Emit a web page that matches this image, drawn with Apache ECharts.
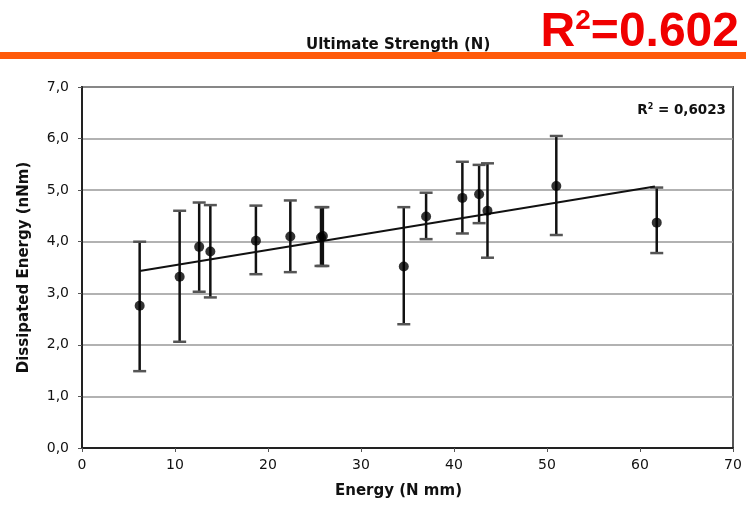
<!DOCTYPE html>
<html>
<head>
<meta charset="utf-8">
<script src="https://cdn.jsdelivr.net/npm/echarts@6/dist/echarts.min.js"></script>
<style>
html,body{margin:0;padding:0;background:#fff;}
#chart{width:746px;height:511px;}
</style>
</head>
<body>
<div id="chart"></div>
<script>
// Data
const energyX = [6.2, 10.5, 12.6, 13.8, 18.7, 22.4, 25.7, 25.9, 34.6, 37.0, 40.9, 42.7, 43.6, 51.0, 61.8];
const dissipatedY = [2.76, 3.32, 3.90, 3.81, 4.02, 4.10, 4.08, 4.11, 3.52, 4.49, 4.85, 4.92, 4.60, 5.08, 4.37];
const errHigh = [4.00, 4.60, 4.76, 4.71, 4.70, 4.80, 4.67, 4.67, 4.67, 4.95, 5.55, 5.49, 5.52, 6.05, 5.05];
const errLow = [1.49, 2.06, 3.03, 2.92, 3.37, 3.41, 3.53, 3.53, 2.40, 4.05, 4.16, 4.36, 3.69, 4.13, 3.78];
const trendX = [6.2, 61.6];
const trendY = [3.43, 5.07];
const yTicks = [0, 1, 2, 3, 4, 5, 6, 7];
const xTicks = [0, 10, 20, 30, 40, 50, 60, 70];

const points = energyX.map((x, i) => [x, dissipatedY[i]]);
const bars = energyX.map((x, i) => [x, errLow[i], errHigh[i]]);
const trend = trendX.map((x, i) => [x, trendY[i]]);

const wideBold = 'DejaVu Sans, Liberation Sans, Arial';

const chart = echarts.init(document.getElementById('chart'), null, {renderer: 'canvas'});
const option = {
  animation: false,
  backgroundColor: '#fff',
  title: [
    {
      text: 'Ultimate Strength (N)',
      left: 301, top: 33,
      textStyle: {fontFamily: wideBold, fontWeight: 'bold', fontSize: 15, color: '#111'}
    },
    {
      text: '{r|R}{s|2}{r|=0.602}',
      right: 2, top: 2,
      textStyle: {
        rich: {
          r: {fontFamily: 'Liberation Sans, Arial', fontWeight: 'bold', fontSize: 48, color: '#f00000', verticalAlign: 'bottom'},
          s: {fontFamily: 'Liberation Sans, Arial', fontWeight: 'bold', fontSize: 28, color: '#f00000', verticalAlign: 'top', padding: [0, 0, 22, 0]}
        }
      }
    }
  ],
  graphic: [
    {type: 'rect', shape: {x: 0, y: 52, width: 746, height: 7}, style: {fill: '#ff5a0a'}, silent: true},
    {
      type: 'text', right: 20, top: 103,
      style: {
        text: '{r|R}{s|2}{r| = 0,6023}',
        rich: {
          r: {fontFamily: wideBold, fontWeight: 'bold', fontSize: 13.5, fill: '#111'},
          s: {fontFamily: wideBold, fontWeight: 'bold', fontSize: 8, fill: '#111', padding: [0, 0, 6, 0]}
        }
      }
    }
  ],
  grid: {left: 82, right: 13, top: 87, bottom: 63, show: true, borderColor: '#555', borderWidth: 2, backgroundColor: '#fff'},
  xAxis: {
    type: 'value', min: xTicks[0], max: xTicks[xTicks.length - 1], interval: 10,
    name: 'Energy (N mm)', nameLocation: 'middle', nameGap: 36,
    nameTextStyle: {fontFamily: wideBold, fontWeight: 'bold', fontSize: 15, color: '#111', padding: [0, 18, 0, 0]},
    axisLine: {lineStyle: {color: '#222', width: 2}},
    axisTick: {show: true, length: 4, lineStyle: {color: '#555'}},
    axisLabel: {fontFamily: 'DejaVu Sans, Arial', fontSize: 14, color: '#111', margin: 10},
    splitLine: {show: false}
  },
  yAxis: {
    type: 'value', min: yTicks[0], max: yTicks[yTicks.length - 1], interval: 1,
    name: 'Dissipated Energy (nNm)', nameLocation: 'middle', nameGap: 50,
    nameTextStyle: {fontFamily: wideBold, fontWeight: 'bold', fontSize: 15, color: '#111'},
    axisLine: {show: true, lineStyle: {color: '#222', width: 2}},
    axisTick: {show: true, length: 4, lineStyle: {color: '#555'}},
    axisLabel: {fontFamily: 'DejaVu Sans, Arial', fontSize: 14, color: '#111', margin: 13,
      formatter: v => v.toFixed(1).replace('.', ',')},
    splitLine: {show: true, lineStyle: {color: '#999', width: 1.5}}
  },
  series: [
    {
      type: 'custom',
      data: bars,
      z: 3,
      renderItem: (params, api) => {
        const x = api.value(0);
        const lo = api.coord([x, api.value(1)]);
        const hi = api.coord([x, api.value(2)]);
        const hw = 6.5;
        return {
          type: 'group',
          children: [
            {type: 'line', shape: {x1: lo[0], y1: lo[1], x2: hi[0], y2: hi[1]}, style: {stroke: '#111', lineWidth: 2.5}},
            {type: 'line', shape: {x1: lo[0] - hw, y1: lo[1], x2: lo[0] + hw, y2: lo[1]}, style: {stroke: '#555', lineWidth: 2.5}},
            {type: 'line', shape: {x1: hi[0] - hw, y1: hi[1], x2: hi[0] + hw, y2: hi[1]}, style: {stroke: '#555', lineWidth: 2.5}}
          ]
        };
      }
    },
    {
      type: 'line', data: trend, showSymbol: false, z: 4,
      lineStyle: {color: '#111', width: 2}
    },
    {
      type: 'scatter', data: points, symbol: 'circle', symbolSize: 10, z: 5,
      itemStyle: {color: '#000'}
    }
  ]
};
chart.setOption(option);
</script>
</body>
</html>
